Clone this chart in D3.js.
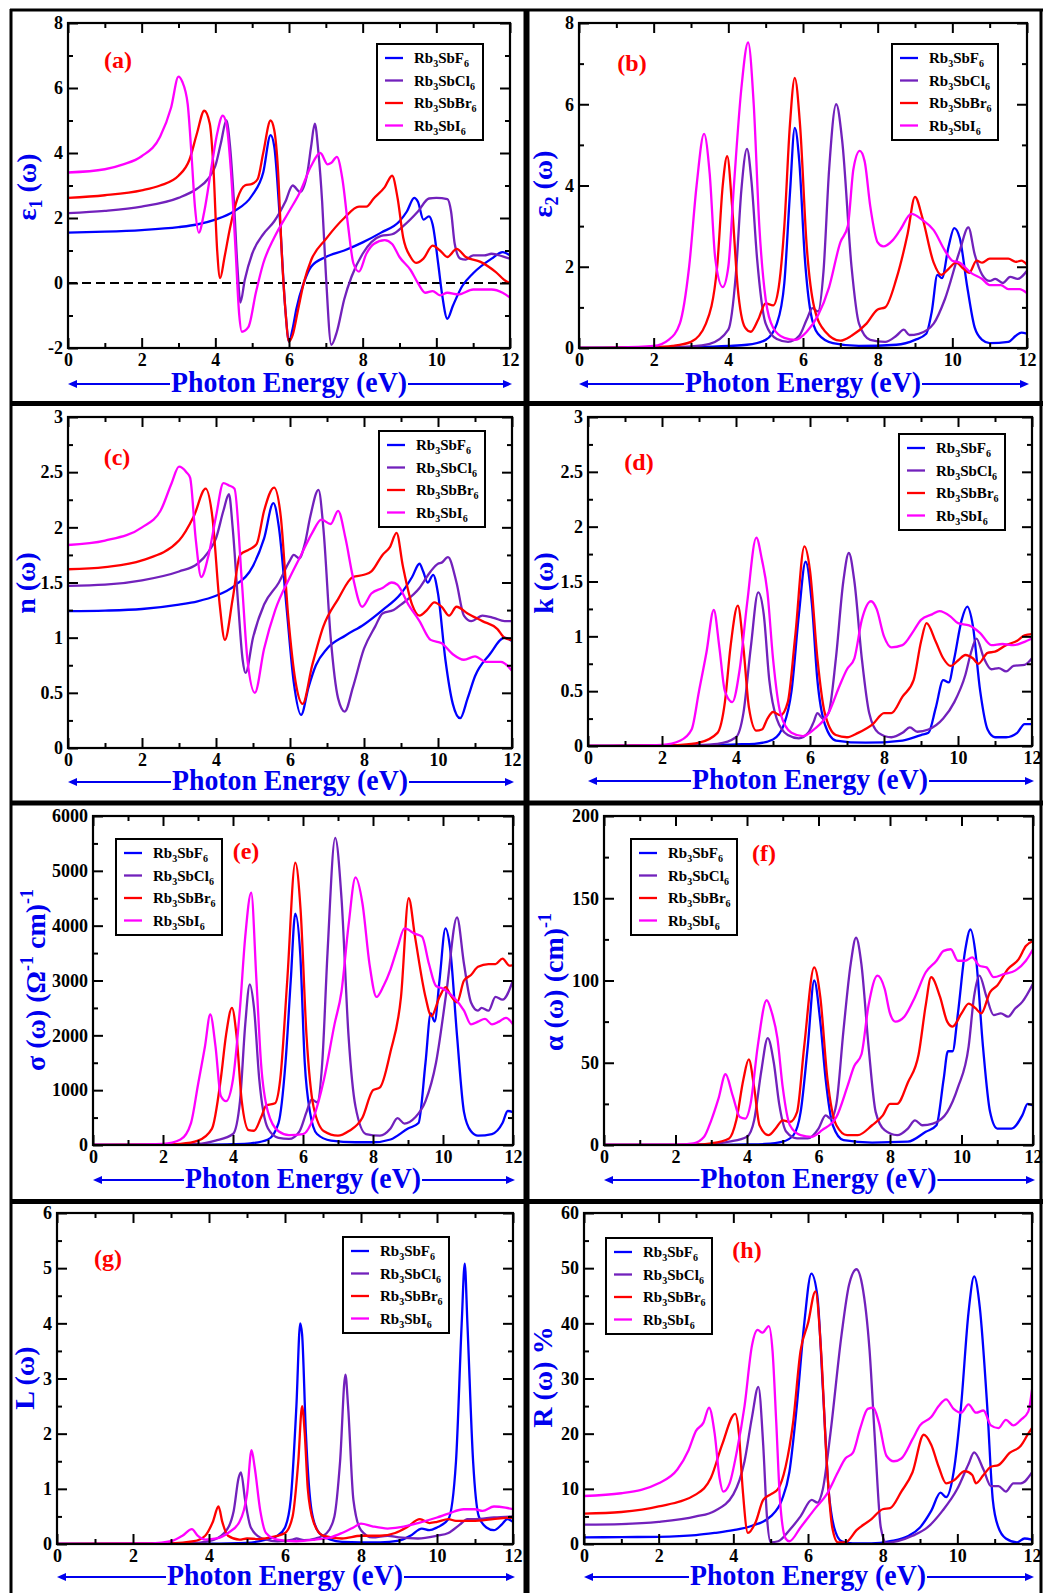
<!DOCTYPE html>
<html><head><meta charset="utf-8">
<script src="https://cdn.jsdelivr.net/npm/d3@7"></script>
<style>
body{margin:0;background:#fff}
svg{display:block}
text{font-family:"Liberation Serif","Times New Roman",serif;font-weight:bold}
</style>
</head><body>
<svg id="chart" width="1044" height="1593"></svg>
<script>
// ---------------- DATA (photon energy eV, value) ----------------
const energyTicks = [0,2,4,6,8,10,12];
const compounds = ["F","Cl","Br","I"];

// (a) epsilon_1
const e1_F = [[0,1.55],[1,1.58],[2,1.63],[3,1.72],[3.5,1.8],[4,1.95],[4.5,2.2],[5,2.7],[5.3,3.4],[5.5,4.55],[5.6,4.2],[5.75,2.0],[5.9,-0.8],[6.0,-1.8],[6.1,-1.4],[6.2,-0.8],[6.4,0.0],[6.6,0.5],[7,0.8],[7.5,1.0],[8,1.25],[8.5,1.55],[9,1.9],[9.2,2.2],[9.4,2.62],[9.5,2.5],[9.65,1.95],[9.8,2.05],[9.9,1.8],[10.05,0.6],[10.15,-0.3],[10.3,-1.1],[10.45,-0.7],[10.7,-0.1],[11,0.3],[11.5,0.75],[11.8,0.95],[12,0.85]];
const e1_Cl = [[0,2.15],[1,2.22],[2,2.35],[3,2.62],[3.5,2.9],[3.8,3.2],[4,3.6],[4.15,4.3],[4.3,5.0],[4.4,4.2],[4.5,2.6],[4.6,0.5],[4.68,-0.6],[4.8,0.1],[5,0.9],[5.3,1.5],[5.6,1.9],[5.9,2.5],[6.1,3.0],[6.3,2.8],[6.5,3.4],[6.6,4.2],[6.7,4.9],[6.8,4.0],[6.9,2.5],[7.0,0.3],[7.15,-1.9],[7.3,-1.5],[7.5,-0.5],[7.7,0.2],[8,0.9],[8.5,1.45],[8.8,1.5],[9.1,1.75],[9.5,2.2],[9.8,2.6],[10.0,2.62],[10.3,2.58],[10.4,2.2],[10.5,1.2],[10.65,0.75],[10.8,0.72],[11,0.85],[11.3,0.85],[11.5,0.9],[11.8,0.82],[12,0.75]];
const e1_Br = [[0,2.62],[1,2.7],[2,2.85],[2.5,3.0],[3,3.3],[3.3,3.8],[3.5,4.6],[3.7,5.3],[3.85,4.9],[3.95,3.5],[4.05,1.0],[4.13,0.15],[4.25,0.8],[4.4,1.7],[4.6,2.6],[4.8,3.0],[5.0,3.05],[5.15,3.2],[5.3,4.0],[5.5,5.0],[5.6,4.7],[5.7,3.5],[5.8,1.0],[5.9,-0.8],[6.0,-1.8],[6.1,-1.6],[6.25,-0.8],[6.4,0.0],[6.6,0.7],[7.0,1.35],[7.5,2.0],[7.9,2.35],[8.1,2.35],[8.3,2.6],[8.6,2.95],[8.8,3.3],[8.95,2.6],[9.1,1.4],[9.3,0.8],[9.45,0.62],[9.65,0.75],[9.9,1.15],[10.1,1.0],[10.3,0.8],[10.55,1.05],[10.8,0.8],[11.2,0.65],[11.6,0.35],[11.9,0.05],[12,0.0]];
const e1_I = [[0,3.4],[1,3.5],[1.5,3.65],[2,3.9],[2.5,4.5],[2.8,5.4],[3.0,6.35],[3.1,6.2],[3.25,5.5],[3.35,4.0],[3.45,2.3],[3.55,1.55],[3.7,2.2],[3.9,3.6],[4.05,4.6],[4.2,5.15],[4.3,4.9],[4.42,3.5],[4.55,1.0],[4.65,-1.0],[4.72,-1.5],[4.9,-1.35],[5.1,-0.3],[5.3,0.6],[5.6,1.4],[6.0,2.2],[6.3,2.8],[6.6,3.6],[6.85,4.0],[7.05,3.65],[7.15,3.7],[7.3,3.88],[7.45,3.2],[7.6,1.8],[7.75,0.6],[7.9,0.35],[8.1,0.9],[8.3,1.2],[8.6,1.32],[8.8,1.2],[9.0,0.8],[9.3,0.4],[9.5,0.0],[9.7,-0.3],[9.9,-0.25],[10.1,-0.38],[10.3,-0.3],[10.6,-0.35],[11,-0.2],[11.5,-0.2],[11.8,-0.3],[12,-0.45]];

// (b) epsilon_2
const e2_F = [[0,0],[2,0.01],[3,0.02],[4,0.05],[4.5,0.08],[5.0,0.2],[5.3,0.6],[5.5,1.6],[5.65,3.8],[5.78,5.42],[5.9,4.6],[6.05,2.2],[6.2,0.9],[6.4,0.35],[6.8,0.12],[7.5,0.05],[8.5,0.08],[9.0,0.2],[9.3,0.35],[9.45,0.9],[9.6,1.8],[9.72,1.72],[9.9,2.5],[10.05,2.95],[10.2,2.7],[10.4,1.5],[10.6,0.5],[10.8,0.2],[11.0,0.12],[11.5,0.15],[11.7,0.3],[11.85,0.38],[12,0.35]];
const e2_Cl = [[0,0],[2,0.01],[3,0.04],[3.5,0.1],[4.0,0.45],[4.2,1.8],[4.35,3.9],[4.5,4.9],[4.62,4.1],[4.77,2.2],[5.0,0.6],[5.3,0.22],[5.6,0.15],[5.9,0.3],[6.1,0.7],[6.25,0.98],[6.4,0.9],[6.55,1.9],[6.7,4.4],[6.89,6.0],[7.05,5.1],[7.3,2.0],[7.5,0.6],[7.8,0.2],[8.2,0.15],[8.5,0.3],[8.7,0.45],[8.85,0.32],[9.1,0.35],[9.5,0.6],[9.8,1.2],[10.2,2.4],[10.43,2.97],[10.6,2.3],[10.8,1.8],[11.0,1.65],[11.15,1.7],[11.35,1.6],[11.55,1.75],[11.75,1.7],[12,1.9]];
const e2_Br = [[0,0],[2,0.02],[2.5,0.05],[3.0,0.15],[3.4,0.6],[3.7,2.0],[3.85,4.0],[3.97,4.72],[4.1,3.5],[4.25,1.5],[4.45,0.5],[4.6,0.4],[4.8,0.7],[5.0,1.1],[5.2,1.05],[5.35,1.5],[5.5,3.0],[5.65,5.5],[5.78,6.65],[5.92,5.5],[6.1,2.5],[6.3,1.0],[6.6,0.4],[7.0,0.18],[7.3,0.3],[7.7,0.6],[8.0,0.95],[8.2,1.0],[8.5,1.7],[8.8,2.8],[9.0,3.72],[9.2,3.2],[9.5,2.1],[9.7,1.8],[9.9,1.95],[10.1,2.1],[10.3,1.95],[10.45,1.85],[10.65,2.15],[10.8,2.1],[11.0,2.2],[11.5,2.2],[11.7,2.12],[11.85,2.15],[12,2.05]];
const e2_I = [[0,0],[1,0.01],[2,0.05],[2.4,0.2],[2.7,0.6],[2.95,2.0],[3.15,4.0],[3.35,5.27],[3.5,4.3],[3.65,2.2],[3.85,1.5],[4.0,2.0],[4.15,4.0],[4.35,6.4],[4.53,7.52],[4.68,6.0],[4.83,3.0],[5.0,1.2],[5.2,0.5],[5.5,0.25],[5.8,0.2],[6.1,0.4],[6.4,0.8],[6.7,1.5],[7.0,2.6],[7.2,3.0],[7.35,4.4],[7.52,4.85],[7.65,4.6],[7.8,3.5],[8.0,2.6],[8.15,2.5],[8.4,2.65],[8.6,2.9],[8.9,3.3],[9.2,3.15],[9.5,2.9],[9.8,2.4],[10.0,2.15],[10.2,2.1],[10.5,1.85],[10.8,1.7],[11.0,1.55],[11.3,1.55],[11.5,1.45],[11.8,1.45],[12,1.35]];

// (c) refractive index n
const n_F = [[0,1.24],[1,1.245],[2,1.26],[3,1.3],[3.5,1.33],[4,1.38],[4.5,1.47],[5.0,1.65],[5.3,1.9],[5.55,2.22],[5.7,2.0],[5.9,1.3],[6.1,0.6],[6.3,0.3],[6.5,0.55],[6.7,0.75],[7.0,0.9],[7.5,1.02],[8.0,1.12],[8.5,1.25],[9.0,1.4],[9.3,1.55],[9.5,1.67],[9.6,1.6],[9.72,1.5],[9.87,1.57],[10.0,1.4],[10.2,0.8],[10.4,0.4],[10.6,0.27],[10.8,0.45],[11.0,0.65],[11.4,0.85],[11.8,1.0],[12,0.97]];
const n_Cl = [[0,1.47],[1,1.48],[2,1.52],[3,1.6],[3.5,1.67],[3.8,1.78],[4.0,1.9],[4.2,2.15],[4.35,2.3],[4.45,2.0],[4.6,1.3],[4.72,0.8],[4.8,0.68],[5.0,1.0],[5.3,1.3],[5.7,1.5],[6.0,1.7],[6.1,1.75],[6.25,1.72],[6.4,1.85],[6.55,2.1],[6.77,2.34],[6.9,2.0],[7.1,1.0],[7.3,0.45],[7.48,0.33],[7.7,0.55],[8.0,0.9],[8.3,1.1],[8.5,1.22],[8.8,1.25],[9.0,1.3],[9.5,1.45],[9.8,1.6],[10.0,1.67],[10.1,1.68],[10.27,1.73],[10.5,1.5],[10.7,1.2],[10.9,1.15],[11.2,1.2],[11.5,1.18],[11.8,1.15],[12,1.15]];
const n_Br = [[0,1.62],[1,1.64],[2,1.7],[3,1.88],[3.4,2.1],[3.72,2.35],[3.9,2.1],[4.1,1.3],[4.24,0.98],[4.45,1.35],[4.65,1.75],[4.9,1.8],[5.1,1.85],[5.3,2.15],[5.57,2.36],[5.75,2.1],[5.95,1.2],[6.15,0.6],[6.34,0.4],[6.6,0.75],[6.9,1.1],[7.3,1.35],[7.7,1.55],[8.0,1.57],[8.2,1.6],[8.5,1.75],[8.7,1.82],[8.88,1.95],[9.05,1.65],[9.3,1.3],[9.5,1.2],[9.7,1.25],[9.9,1.32],[10.1,1.28],[10.3,1.2],[10.5,1.28],[10.8,1.22],[11.2,1.15],[11.6,1.08],[11.8,1.0],[12,0.98]];
const n_I = [[0,1.84],[1,1.88],[2,2.0],[2.5,2.15],[2.8,2.4],[3.0,2.55],[3.2,2.5],[3.3,2.45],[3.45,1.9],[3.6,1.55],[3.8,1.75],[4.0,2.1],[4.2,2.4],[4.35,2.38],[4.5,2.35],[4.7,1.5],[4.85,0.8],[5.05,0.5],[5.3,0.9],[5.6,1.25],[6.0,1.55],[6.3,1.75],[6.6,1.95],[6.85,2.07],[7.1,2.03],[7.3,2.15],[7.5,1.9],[7.7,1.55],[7.95,1.28],[8.2,1.4],[8.5,1.45],[8.75,1.5],[8.9,1.48],[9.2,1.3],[9.5,1.15],[9.8,0.98],[10.1,0.95],[10.4,0.85],[10.7,0.8],[11.0,0.83],[11.3,0.78],[11.7,0.78],[12,0.7]];

// (d) extinction coefficient k
const k_F = [[0,0],[2,0.005],[4,0.015],[4.5,0.02],[5.0,0.06],[5.3,0.2],[5.5,0.5],[5.7,1.2],[5.88,1.68],[6.05,1.3],[6.2,0.6],[6.4,0.2],[6.7,0.05],[7.5,0.03],[8.5,0.05],[9.0,0.1],[9.2,0.12],[9.4,0.35],[9.6,0.6],[9.75,0.58],[9.9,0.8],[10.1,1.15],[10.25,1.27],[10.4,1.1],[10.6,0.5],[10.8,0.15],[11.0,0.08],[11.3,0.08],[11.6,0.12],[11.8,0.2],[12,0.2]];
const k_Cl = [[0,0],[2,0.005],[3,0.01],[3.5,0.02],[4.0,0.08],[4.2,0.3],[4.4,0.9],[4.6,1.4],[4.75,1.2],[4.9,0.6],[5.1,0.25],[5.4,0.1],[5.7,0.07],[5.95,0.12],[6.1,0.22],[6.2,0.3],[6.35,0.25],[6.5,0.3],[6.7,0.8],[6.9,1.5],[7.05,1.76],[7.2,1.5],[7.4,0.8],[7.6,0.3],[7.85,0.12],[8.2,0.08],[8.5,0.12],[8.7,0.17],[8.9,0.13],[9.2,0.15],[9.6,0.25],[9.9,0.4],[10.2,0.65],[10.35,0.85],[10.5,0.98],[10.7,0.8],[10.9,0.7],[11.1,0.71],[11.3,0.68],[11.5,0.73],[11.8,0.74],[12,0.8]];
const k_Br = [[0,0],[2,0.005],[2.5,0.01],[3.0,0.03],[3.5,0.12],[3.7,0.4],[3.85,0.9],[4.05,1.28],[4.2,0.9],[4.35,0.35],[4.55,0.14],[4.7,0.15],[4.85,0.25],[5.0,0.31],[5.2,0.28],[5.4,0.4],[5.6,1.0],[5.85,1.82],[6.0,1.6],[6.2,0.8],[6.4,0.3],[6.7,0.1],[7.0,0.08],[7.3,0.12],[7.7,0.2],[8.0,0.3],[8.2,0.3],[8.5,0.45],[8.8,0.6],[9.0,0.95],[9.15,1.12],[9.4,0.95],[9.6,0.8],[9.8,0.73],[10.0,0.78],[10.2,0.83],[10.4,0.8],[10.55,0.75],[10.8,0.85],[11.0,0.86],[11.3,0.92],[11.6,0.96],[11.8,1.01],[12,1.02]];
const k_I = [[0,0],[1,0.003],[2,0.01],[2.5,0.05],[2.8,0.15],[3.0,0.5],[3.2,0.85],[3.4,1.24],[3.55,0.9],[3.7,0.5],[3.9,0.4],[4.1,0.7],[4.3,1.3],[4.55,1.9],[4.7,1.7],[4.85,1.4],[5.0,0.8],[5.2,0.3],[5.5,0.12],[5.8,0.09],[6.1,0.15],[6.5,0.3],[6.8,0.55],[7.0,0.7],[7.2,0.8],[7.4,1.15],[7.65,1.32],[7.8,1.25],[8.0,1.0],[8.2,0.9],[8.5,0.92],[8.8,1.05],[9.0,1.15],[9.3,1.2],[9.5,1.23],[9.8,1.18],[10.0,1.12],[10.3,1.1],[10.6,1.03],[10.9,0.92],[11.2,0.93],[11.5,0.92],[11.8,0.95],[12,0.98]];

// (e) optical conductivity sigma
const sig_F = [[0,0],[2,2],[3,5],[4,15],[4.5,30],[5.0,100],[5.3,400],[5.5,1500],[5.65,3000],[5.78,4220],[5.92,3500],[6.05,1500],[6.2,600],[6.4,200],[6.8,80],[7.5,50],[8.0,50],[8.5,100],[9.0,300],[9.3,400],[9.5,1500],[9.65,2400],[9.76,2250],[9.9,3000],[10.07,3950],[10.2,3600],[10.4,2000],[10.6,600],[10.8,250],[11.0,170],[11.4,200],[11.7,400],[11.85,620],[12,600]];
const sig_Cl = [[0,0],[2,5],[3.0,20],[3.5,80],[4.0,200],[4.2,800],[4.35,2200],[4.48,2930],[4.6,2500],[4.75,1200],[5.0,300],[5.3,130],[5.6,110],[5.9,250],[6.1,600],[6.25,830],[6.4,780],[6.55,1500],[6.7,3500],[6.92,5600],[7.1,4500],[7.3,2000],[7.5,700],[7.8,200],[8.2,170],[8.5,300],[8.7,490],[8.9,390],[9.2,500],[9.5,800],[9.8,1500],[10.1,2800],[10.4,4150],[10.6,3300],[10.8,2600],[11.0,2450],[11.1,2500],[11.3,2450],[11.5,2700],[11.7,2650],[12,3000]];
const sig_Br = [[0,0],[2,5],[2.5,20],[3.0,80],[3.4,300],[3.65,1200],[3.8,2000],[3.97,2500],[4.1,2000],[4.25,800],[4.45,270],[4.6,260],[4.8,500],[4.95,720],[5.2,760],[5.35,1200],[5.55,3000],[5.78,5150],[5.93,4300],[6.1,2000],[6.3,700],[6.6,250],[7.0,170],[7.3,250],[7.7,500],[8.0,1000],[8.2,1050],[8.5,1700],[8.8,2700],[9.02,4500],[9.2,3800],[9.5,2700],[9.67,2350],[9.9,2700],[10.08,2880],[10.2,2750],[10.4,2600],[10.6,3000],[10.8,3100],[11.0,3250],[11.3,3300],[11.5,3300],[11.7,3400],[11.9,3270],[12,3280]];
const sig_I = [[0,0],[1,3],[2,20],[2.5,100],[2.8,400],[3.0,1100],[3.2,1800],[3.35,2380],[3.5,1800],[3.65,900],[3.8,800],[4.0,1200],[4.2,2500],[4.35,3800],[4.52,4600],[4.67,3000],[4.8,1500],[5.0,600],[5.3,250],[5.6,180],[6.0,200],[6.3,500],[6.6,1200],[6.9,2200],[7.1,2800],[7.3,4000],[7.5,4880],[7.7,4400],[7.9,3300],[8.1,2700],[8.3,2900],[8.5,3200],[8.7,3600],[8.9,3950],[9.2,3850],[9.4,3800],[9.6,3300],[9.8,2900],[10.0,2850],[10.3,2700],[10.6,2450],[10.8,2200],[11.0,2250],[11.2,2300],[11.4,2200],[11.6,2250],[11.8,2320],[12,2200]];

// (f) absorption coefficient alpha
const alp_F = [[0,0],[3,0.1],[4,0.3],[4.5,0.6],[5.0,2],[5.3,6],[5.5,20],[5.7,60],[5.88,100],[6.05,75],[6.2,40],[6.4,12],[6.7,3],[7.5,1.5],[8.5,2],[9.0,8],[9.3,12],[9.5,40],[9.62,57],[9.75,57],[9.9,80],[10.1,118],[10.25,131],[10.4,115],[10.6,60],[10.8,20],[11.0,10],[11.4,10],[11.7,18],[11.85,25],[12,24]];
const alp_Cl = [[0,0],[2,0.1],[3.0,0.5],[3.5,2],[4.0,5],[4.2,15],[4.4,45],[4.58,65],[4.75,50],[4.9,25],[5.1,8],[5.4,4],[5.7,4],[6.0,10],[6.2,18],[6.35,16],[6.5,25],[6.7,70],[6.9,110],[7.05,126],[7.2,110],[7.4,60],[7.6,20],[7.85,9],[8.2,6],[8.5,10],[8.7,15],[8.9,12],[9.2,13],[9.6,20],[9.9,35],[10.2,60],[10.35,90],[10.5,103],[10.7,90],[10.9,79],[11.1,80],[11.3,78],[11.5,83],[11.7,87],[12,98]];
const alp_Br = [[0,0],[2,0.1],[2.5,0.2],[3.0,1],[3.5,4],[3.7,15],[3.9,40],[4.05,52],[4.2,35],[4.35,12],[4.6,6],[4.8,10],[5.0,15],[5.2,14],[5.4,20],[5.6,60],[5.88,108],[6.05,90],[6.25,40],[6.5,12],[6.8,6],[7.1,6],[7.5,12],[7.8,18],[8.0,25],[8.2,25],[8.5,38],[8.8,55],[9.0,85],[9.15,102],[9.4,90],[9.6,75],[9.75,72],[10.0,80],[10.2,86],[10.4,83],[10.55,80],[10.8,93],[11.0,97],[11.3,107],[11.6,113],[11.8,121],[12,124]];
const alp_I = [[0,0],[2,0.2],[2.5,1],[2.8,5],[3.0,15],[3.2,28],[3.4,43],[3.6,30],[3.8,17],[3.95,16],[4.1,25],[4.3,60],[4.55,88],[4.7,80],[4.85,65],[5.0,35],[5.2,12],[5.5,6],[5.8,5],[6.1,9],[6.5,17],[6.8,35],[7.0,48],[7.2,55],[7.4,85],[7.65,103],[7.85,95],[8.0,80],[8.15,75],[8.4,78],[8.7,90],[9.0,105],[9.3,112],[9.5,118],[9.7,119],[9.9,112],[10.1,112],[10.3,114],[10.5,109],[10.7,108],[10.9,102],[11.2,104],[11.5,106],[11.8,112],[12,119]];

// (g) energy loss L
const L_F = [[0,0],[4,0.005],[5.0,0.02],[5.5,0.08],[5.8,0.15],[6.0,0.3],[6.15,0.8],[6.3,2.5],[6.4,4.0],[6.45,3.8],[6.55,2.0],[6.7,0.6],[6.9,0.2],[7.2,0.08],[7.5,0.04],[8.5,0.03],[9.0,0.06],[9.3,0.15],[9.6,0.28],[9.8,0.25],[10.0,0.3],[10.3,0.45],[10.5,1.5],[10.65,4.0],[10.73,5.08],[10.8,4.0],[10.95,1.5],[11.1,0.5],[11.3,0.3],[11.5,0.25],[11.7,0.35],[11.85,0.45],[12,0.4]];
const L_Cl = [[0,0],[3,0.005],[3.5,0.01],[4.0,0.05],[4.4,0.2],[4.65,0.6],[4.78,1.2],[4.84,1.3],[4.95,0.8],[5.1,0.3],[5.4,0.1],[5.8,0.05],[6.2,0.08],[6.3,0.1],[6.5,0.07],[6.8,0.1],[7.1,0.2],[7.3,0.5],[7.45,1.5],[7.59,3.07],[7.66,2.5],[7.8,0.8],[8.0,0.25],[8.3,0.12],[8.7,0.15],[9.0,0.12],[9.5,0.1],[10.0,0.15],[10.3,0.2],[10.6,0.35],[10.8,0.45],[11.0,0.45],[11.5,0.48],[12,0.5]];
const L_Br = [[0,0],[3.0,0.01],[3.6,0.05],[3.9,0.15],[4.1,0.4],[4.25,0.68],[4.35,0.4],[4.5,0.15],[4.8,0.08],[5.0,0.1],[5.3,0.09],[5.6,0.12],[6.0,0.2],[6.2,0.5],[6.35,1.5],[6.45,2.5],[6.52,2.0],[6.6,1.0],[6.75,0.4],[7.0,0.15],[7.5,0.1],[8.0,0.15],[8.5,0.15],[8.9,0.2],[9.2,0.3],[9.55,0.45],[9.8,0.38],[10.0,0.4],[10.3,0.45],[10.5,0.42],[10.8,0.42],[11.2,0.43],[11.6,0.46],[12,0.48]];
const L_I = [[0,0],[2.5,0.01],[3.0,0.05],[3.3,0.15],[3.55,0.27],[3.7,0.15],[3.9,0.08],[4.2,0.1],[4.5,0.2],[4.8,0.4],[5.0,0.9],[5.12,1.7],[5.2,1.4],[5.35,0.6],[5.5,0.2],[5.8,0.08],[6.3,0.05],[6.8,0.08],[7.2,0.12],[7.5,0.2],[7.8,0.3],[8.0,0.37],[8.3,0.32],[8.7,0.28],[9.0,0.3],[9.5,0.38],[10.0,0.48],[10.3,0.55],[10.7,0.63],[11.0,0.63],[11.2,0.6],[11.5,0.68],[11.8,0.66],[12,0.63]];

// (h) reflectivity R %
const R_F = [[0,1.2],[1,1.25],[2,1.3],[3,1.6],[3.5,2.0],[4.0,2.5],[4.5,3.3],[5.0,5.0],[5.3,8],[5.5,13],[5.7,25],[5.9,40],[6.09,49],[6.25,45],[6.4,28],[6.55,10],[6.7,3],[6.9,0.5],[7.2,0.1],[7.7,0.1],[8.2,0.5],[8.7,1.5],[9.0,3],[9.3,6],[9.55,9.3],[9.7,8.5],[9.9,13],[10.1,25],[10.3,42],[10.45,48.5],[10.6,43],[10.8,25],[10.95,8],[11.1,3],[11.3,1],[11.6,0.3],[11.8,1],[12,0.8]];
const R_Cl = [[0,3.5],[1,3.6],[2,4.0],[3,5.0],[3.5,6.0],[4.0,9],[4.3,15],[4.5,23],[4.67,28.5],[4.8,18],[4.9,5],[5.0,0.3],[5.2,0.5],[5.5,2.5],[5.8,5],[6.1,8],[6.25,7.5],[6.4,10],[6.6,20],[6.9,38],[7.1,47],[7.3,49.8],[7.45,47],[7.65,35],[7.8,18],[7.95,3],[8.1,0.2],[8.4,0.5],[8.8,1.5],[9.2,3],[9.6,6],[10.0,10],[10.3,14.5],[10.45,16.6],[10.7,13.5],[10.9,10.5],[11.1,10.5],[11.3,9.5],[11.5,11],[11.7,11],[12,13]];
const R_Br = [[0,5.5],[1,5.8],[2,6.8],[3,9],[3.4,12],[3.7,18],[4.05,23.6],[4.15,20],[4.25,10],[4.39,2],[4.6,4],[4.8,8],[5.0,9],[5.2,10],[5.4,14],[5.6,22],[5.8,35],[6.0,40],[6.2,45.8],[6.35,35],[6.5,15],[6.65,3],[6.8,0.3],[7.0,0.3],[7.3,2.5],[7.7,4.5],[8.0,6.3],[8.2,6.5],[8.5,9.5],[8.8,13],[9.1,19.8],[9.3,18],[9.5,14],[9.7,11],[9.9,11.5],[10.2,13.2],[10.4,12.5],[10.5,11],[10.7,12.5],[10.9,14],[11.1,14.3],[11.4,16.5],[11.7,17.8],[11.9,20],[12,21]];
const R_I = [[0,8.7],[1,9.2],[2,11],[2.5,13.5],[2.8,17],[3.0,20.5],[3.2,22],[3.35,24.7],[3.5,20],[3.63,12],[3.73,9.5],[3.9,11],[4.1,17],[4.3,25],[4.5,36],[4.65,38.8],[4.78,38.3],[4.95,39.5],[5.05,35],[5.15,22],[5.25,8],[5.4,1],[5.5,0.5],[5.8,3],[6.2,6.5],[6.5,9],[6.8,13],[7.0,15.5],[7.2,16.5],[7.4,21],[7.6,24.5],[7.75,24.7],[7.9,22],[8.1,16],[8.3,15],[8.5,15.5],[8.8,19],[9.0,21.5],[9.3,23],[9.5,25],[9.7,26.2],[9.9,24.5],[10.1,23.8],[10.3,25.3],[10.5,23.8],[10.7,24.2],[10.9,21.5],[11.1,21],[11.3,22.5],[11.5,21.5],[11.7,22.5],[11.9,24],[12,28]];

// ---------------- STYLE / LAYOUT ----------------
const colors = ["#0000ff","#7221bc","#ff0000","#ff00ff"];
const serif = '"Liberation Serif","Times New Roman",serif';
const svg = d3.select("#chart");

const panels = [
  {id:"a", series:[e1_F,e1_Cl,e1_Br,e1_I], box:[68,23,510,348], ydom:[-2,8], major:2, minor:1, legend:[377,44], letter:[118,68], xlab:392, ylab:{x:36,y:187,parts:[["ε",0],["1",1],[" (ω)",0]]}, zero:true},
  {id:"b", series:[e2_F,e2_Cl,e2_Br,e2_I], box:[579,23,1027,348], ydom:[0,8], major:2, minor:1, legend:[892,44], letter:[632,71], xlab:392, ylab:{x:552,y:184,parts:[["ε",0],["2",1],[" (ω)",0]]}},
  {id:"c", series:[n_F,n_Cl,n_Br,n_I], box:[68,417,512,748], ydom:[0,3], major:0.5, minor:0.25, legend:[379,431], letter:[117,465], xlab:790, ylab:{x:35,y:583,parts:[["n (ω)",0]]}},
  {id:"d", series:[k_F,k_Cl,k_Br,k_I], box:[588,417,1032,746], ydom:[0,3], major:0.5, minor:0.25, legend:[899,434], letter:[639,470], xlab:789, ylab:{x:553,y:583,parts:[["k (ω)",0]]}},
  {id:"e", series:[sig_F,sig_Cl,sig_Br,sig_I], box:[93,816,513,1145], ydom:[0,6000], major:1000, minor:500, legend:[116,839], letter:[246,859], xlab:1188, ylab:{x:45,y:980,parts:[["σ (ω) (Ω",0],["-1",2],[" cm)",0],["-1",2]]}},
  {id:"f", series:[alp_F,alp_Cl,alp_Br,alp_I], box:[604,816,1033,1145], ydom:[0,200], major:50, minor:25, legend:[631,839], letter:[764,861], xlab:1188, ylab:{x:563,y:982,parts:[["α (ω) (cm)",0],["-1",2]]}},
  {id:"g", series:[L_F,L_Cl,L_Br,L_I], box:[57,1213,513,1544], ydom:[0,6], major:1, minor:0.5, legend:[343,1237], letter:[108,1266], xlab:1585, ylab:{x:34,y:1378,parts:[["L (ω)",0]]}},
  {id:"h", series:[R_F,R_Cl,R_Br,R_I], box:[584,1213,1032,1544], ydom:[0,60], major:10, minor:5, legend:[606,1238], letter:[747,1258], xlab:1585, ylab:{x:552,y:1377,parts:[["R (ω) %",0]]}}
];

const defs = svg.append("defs");

function range(a,b,s){const out=[];for(let v=a;v<=b+1e-9;v+=s)out.push(+v.toFixed(6));return out;}

function styleAxis(g){
  g.attr("font-family",serif).attr("font-weight","bold").attr("font-size",18);
  g.select(".domain").remove();
  g.selectAll(".tick line").attr("stroke","#000").attr("stroke-width",2);
  g.selectAll(".tick text").attr("fill","#000");
}

function drawPanel(p){
  const [x0,y0,x1,y1] = p.box;
  const x = d3.scaleLinear().domain([0,12]).range([x0,x1]);
  const y = d3.scaleLinear().domain(p.ydom).range([y1,y0]);
  const g = svg.append("g");
  const cid = "clip-"+p.id;
  defs.append("clipPath").attr("id",cid).append("rect")
    .attr("x",x0).attr("y",y0).attr("width",x1-x0).attr("height",y1-y0);

  if(p.zero){
    g.append("line").attr("x1",x0).attr("x2",x1).attr("y1",y(0)).attr("y2",y(0))
      .attr("stroke","#000").attr("stroke-width",2).attr("stroke-dasharray","9,5");
  }

  const line = d3.line().x(d=>x(d[0])).y(d=>y(d[1])).curve(d3.curveMonotoneX);
  const lg = g.append("g").attr("clip-path",`url(#${cid})`);
  p.series.forEach((s,i)=>{
    lg.append("path").attr("d",line(s)).attr("fill","none")
      .attr("stroke",colors[i]).attr("stroke-width",2.3)
      .attr("stroke-linejoin","round").attr("stroke-linecap","round");
  });

  const xMinor = range(0,12,1).filter(v=>v%2!==0);
  const yMajor = range(p.ydom[0],p.ydom[1],p.major);
  const yMinor = range(p.ydom[0],p.ydom[1],p.minor).filter(v=>!yMajor.some(m=>Math.abs(m-v)<1e-9));

  // bottom
  g.append("g").attr("transform",`translate(0,${y1})`)
    .call(d3.axisBottom(x).tickValues(energyTicks).tickSize(-10).tickSizeOuter(0).tickPadding(5).tickFormat(d=>String(d))).call(styleAxis);
  g.append("g").attr("transform",`translate(0,${y1})`)
    .call(d3.axisBottom(x).tickValues(xMinor).tickSize(-5).tickSizeOuter(0).tickFormat("")).call(styleAxis);
  // top
  g.append("g").attr("transform",`translate(0,${y0})`)
    .call(d3.axisTop(x).tickValues(energyTicks).tickSize(-10).tickSizeOuter(0).tickFormat("")).call(styleAxis);
  g.append("g").attr("transform",`translate(0,${y0})`)
    .call(d3.axisTop(x).tickValues(xMinor).tickSize(-5).tickSizeOuter(0).tickFormat("")).call(styleAxis);
  // left
  g.append("g").attr("transform",`translate(${x0},0)`)
    .call(d3.axisLeft(y).tickValues(yMajor).tickSize(-10).tickSizeOuter(0).tickPadding(5).tickFormat(d=>String(d))).call(styleAxis);
  g.append("g").attr("transform",`translate(${x0},0)`)
    .call(d3.axisLeft(y).tickValues(yMinor).tickSize(-5).tickSizeOuter(0).tickFormat("")).call(styleAxis);
  // right
  g.append("g").attr("transform",`translate(${x1},0)`)
    .call(d3.axisRight(y).tickValues(yMajor).tickSize(-10).tickSizeOuter(0).tickFormat("")).call(styleAxis);
  g.append("g").attr("transform",`translate(${x1},0)`)
    .call(d3.axisRight(y).tickValues(yMinor).tickSize(-5).tickSizeOuter(0).tickFormat("")).call(styleAxis);

  // frame
  g.append("rect").attr("x",x0).attr("y",y0).attr("width",x1-x0).attr("height",y1-y0)
    .attr("fill","none").attr("stroke","#000").attr("stroke-width",2.2);

  // legend
  const [bx,by] = p.legend;
  const lgd = g.append("g");
  lgd.append("rect").attr("x",bx).attr("y",by).attr("width",106).attr("height",96)
    .attr("fill","#fff").attr("stroke","#000").attr("stroke-width",2);
  compounds.forEach((c,i)=>{
    const ey = by + 14 + i*22.5;
    lgd.append("line").attr("x1",bx+8).attr("x2",bx+26).attr("y1",ey).attr("y2",ey)
      .attr("stroke",colors[i]).attr("stroke-width",2.3);
    const t = lgd.append("text").attr("x",bx+37).attr("y",ey+5).attr("font-size",15).attr("fill","#000");
    t.append("tspan").text("Rb");
    t.append("tspan").attr("font-size",10).attr("dy",4).text("3");
    t.append("tspan").attr("dy",-4).text("Sb"+c);
    t.append("tspan").attr("font-size",10).attr("dy",4).text("6");
  });

  // panel letter
  g.append("text").attr("x",p.letter[0]).attr("y",p.letter[1]).attr("text-anchor","middle")
    .attr("font-size",24).attr("fill","#ff0000").text(`(${p.id})`);

  // x axis title with arrows
  const cx = (x0+x1)/2, tw = 236;
  g.append("text").attr("x",cx).attr("y",p.xlab).attr("text-anchor","middle")
    .attr("font-size",29).attr("fill","#0000ee")
    .attr("textLength",tw).attr("lengthAdjust","spacingAndGlyphs")
    .text("Photon Energy (eV)");
  const ay = p.xlab - 8;
  const ax0 = x0, ax1 = x1+2;
  g.append("line").attr("x1",ax0+6).attr("x2",cx-tw/2-1).attr("y1",ay).attr("y2",ay).attr("stroke","#0000ee").attr("stroke-width",2);
  g.append("line").attr("x1",cx+tw/2+1).attr("x2",ax1-6).attr("y1",ay).attr("y2",ay).attr("stroke","#0000ee").attr("stroke-width",2);
  g.append("path").attr("d",`M${ax0},${ay}L${ax0+9},${ay-4}L${ax0+9},${ay+4}Z`).attr("fill","#0000ee");
  g.append("path").attr("d",`M${ax1},${ay}L${ax1-9},${ay-4}L${ax1-9},${ay+4}Z`).attr("fill","#0000ee");

  // y axis title (rotated)
  const yl = g.append("text").attr("transform",`translate(${p.ylab.x},${p.ylab.y}) rotate(-90)`)
    .attr("text-anchor","middle").attr("font-size",28).attr("fill","#0000ee");
  let shift = 0;
  p.ylab.parts.forEach(([txt,kind])=>{
    const ts = yl.append("tspan").text(txt);
    if(kind===1){ ts.attr("font-size",18).attr("dy",6-shift); shift=6; }
    else if(kind===2){ ts.attr("font-size",18).attr("dy",-12-shift); shift=-12; }
    else { ts.attr("dy",-shift); shift=0; }
  });
}

panels.forEach(drawPanel);

// panel frames (black separators)
const frame = svg.append("g").attr("stroke","#000").attr("fill","none");
frame.append("line").attr("x1",11).attr("x2",11).attr("y1",9).attr("y2",1593).attr("stroke-width",3);
frame.append("line").attr("x1",1041).attr("x2",1041).attr("y1",9).attr("y2",1593).attr("stroke-width",3);
frame.append("line").attr("x1",526.5).attr("x2",526.5).attr("y1",9).attr("y2",1593).attr("stroke-width",6);
frame.append("line").attr("x1",10).attr("x2",1043).attr("y1",10).attr("y2",10).attr("stroke-width",3);
[403.5, 803, 1201.5].forEach(yy=>{
  frame.append("line").attr("x1",10).attr("x2",1043).attr("y1",yy).attr("y2",yy).attr("stroke-width",5);
});
</script>
</body></html>
